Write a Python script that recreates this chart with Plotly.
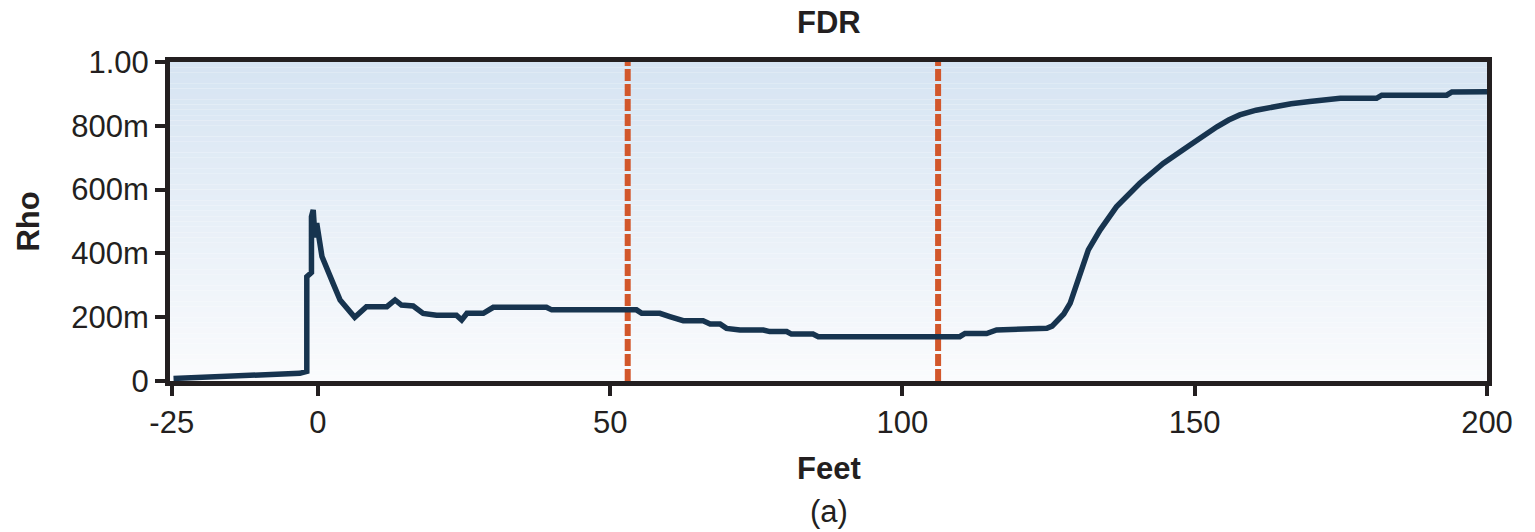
import plotly.graph_objects as go

# ---- data ----
feet = [-24.7, -15.6, -3.1, -1.9, -1.9, -1.1, -1.1, -0.8, -0.5, -0.2, 0.7, 2.6, 3.8, 6.3, 8.3,
        11.8, 13.2, 14.3, 16.3, 18.0, 20.3, 23.7, 24.6, 25.5, 28.3, 30.0, 39.1, 40.0, 54.5,
        55.4, 58.5, 60.2, 62.5, 65.9, 67.1, 68.8, 69.9, 72.2, 76.2, 77.3, 80.2, 81.0, 84.7,
        85.6, 109.8, 110.7, 114.4, 116.1, 124.7, 125.6, 126.4, 127.6, 128.7, 129.6, 130.4,
        131.8, 133.8, 136.6, 140.6, 144.6, 149.2, 151.5, 153.8, 155.8, 157.7, 160.5, 163.4,
        166.5, 169.7, 174.9, 181.1, 182.0, 193.1, 194.0, 200.0]
rho = [0.008, 0.016, 0.024, 0.030, 0.327, 0.340, 0.515, 0.536, 0.45, 0.495, 0.39, 0.306,
       0.254, 0.200, 0.233, 0.233, 0.254, 0.238, 0.235, 0.212, 0.206, 0.206, 0.191, 0.212,
       0.212, 0.231, 0.231, 0.223, 0.223, 0.212, 0.212, 0.202, 0.189, 0.189, 0.179, 0.179,
       0.165, 0.160, 0.160, 0.155, 0.155, 0.147, 0.147, 0.139, 0.139, 0.149, 0.149, 0.160,
       0.165, 0.172, 0.186, 0.210, 0.244, 0.290, 0.338, 0.411, 0.473, 0.546, 0.620, 0.682,
       0.740, 0.770, 0.797, 0.818, 0.834, 0.849, 0.860, 0.869, 0.876, 0.886, 0.886, 0.896,
       0.896, 0.906, 0.907]
marker_feet = [53.0, 106.1]
y_tick_vals = [0, 0.2, 0.4, 0.6, 0.8, 1.0]
y_tick_text = ["0", "200m", "400m", "600m", "800m", "1.00"]
x_tick_vals = [-25, 0, 50, 100, 150, 200]
x_tick_text = ["-25", "0", "50", "100", "150", "200"]

INK = "#231f20"
FONT = "Liberation Sans, Arial, sans-serif"

fig = go.Figure()

# gradient background stripes (plot area)
n = 60
top = (214, 228, 242)
bot = (250, 251, 253)
for i in range(n):
    t = i / (n - 1)
    c = tuple(int(round(bot[k] + (top[k] - bot[k]) * t)) for k in range(3))
    fig.add_shape(type="rect", xref="x domain", yref="y domain",
                  x0=0, x1=1, y0=i / n, y1=(i + 1) / n,
                  fillcolor="rgb(%d,%d,%d)" % c, line=dict(width=0), layer="below")

for xm in marker_feet:
    fig.add_trace(go.Scatter(x=[xm, xm], y=[0, 1], mode="lines",
                             line=dict(color="#d2572b", width=6, dash="12px,3px"),
                             hoverinfo="skip", showlegend=False))

fig.add_trace(go.Scatter(x=feet, y=rho, mode="lines",
                         line=dict(color="#17344f", width=5.5),
                         showlegend=False))

axis_common = dict(showline=True, linewidth=5, linecolor=INK, mirror=True,
                   ticks="outside", ticklen=10, tickwidth=4, tickcolor=INK,
                   showgrid=False, zeroline=False,
                   tickfont=dict(family=FONT, size=31, color=INK))

fig.update_xaxes(range=[-25.3, 200], tickvals=x_tick_vals, ticktext=x_tick_text, **axis_common)
fig.update_yaxes(range=[0, 1], tickvals=y_tick_vals, ticktext=y_tick_text, **axis_common)

ann = [
    dict(text="<b>FDR</b>", x=0.5, y=1.125, size=31),
    dict(text="<b>Feet</b>", x=0.5, y=-0.273, size=31),
    dict(text="(a)", x=0.5, y=-0.410, size=31),
]
for a in ann:
    fig.add_annotation(text=a["text"], xref="paper", yref="paper", x=a["x"], y=a["y"],
                       xanchor="center", yanchor="middle", showarrow=False,
                       font=dict(family=FONT, size=a["size"], color=INK))
fig.add_annotation(text="<b>Rho</b>", xref="paper", yref="paper", x=-0.1078, y=0.5,
                   xanchor="center", yanchor="middle", textangle=-90, showarrow=False,
                   font=dict(family=FONT, size=31, color=INK))

fig.update_layout(width=1535, height=532,
                  margin=dict(l=170, r=48, t=62, b=151),
                  paper_bgcolor="white", plot_bgcolor="white",
                  showlegend=False)

fig.write_html("out.html", config={"displayModeBar": False},
               post_script="document.body.style.margin='0';document.body.style.overflow='hidden';")
